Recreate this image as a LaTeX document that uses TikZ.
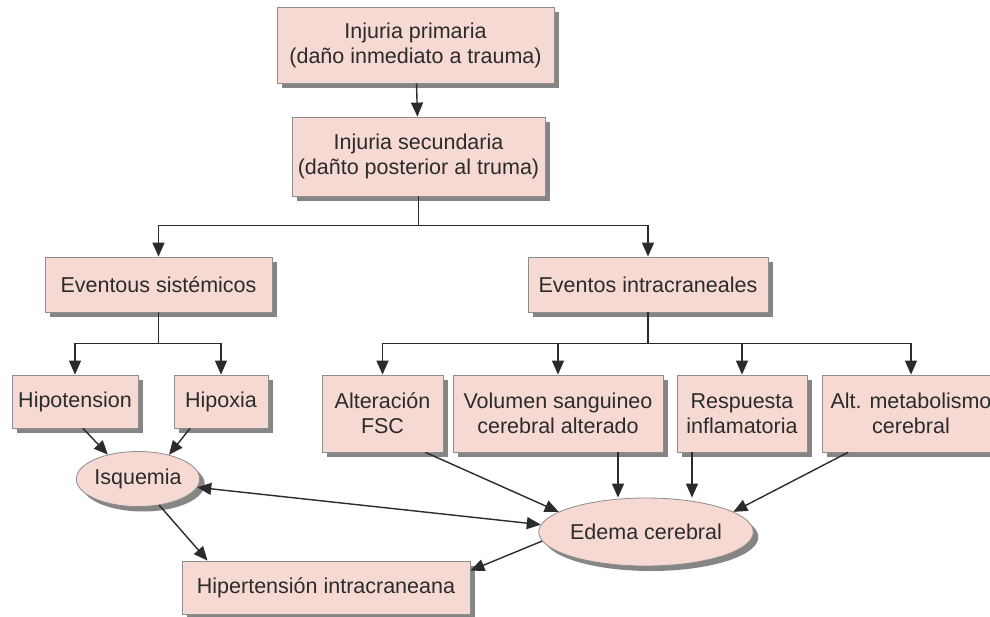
\documentclass[tikz,border=0pt]{standalone}
\usepackage{fontspec}
\setmainfont{Liberation Sans}
\usetikzlibrary{arrows.meta,shapes.geometric,shadows}
\definecolor{boxpink}{HTML}{F6D9D3}
\definecolor{boxline}{HTML}{8E8E8E}
\definecolor{shade}{HTML}{858585}
\definecolor{ink}{HTML}{2B2B2B}
\begin{document}
\begin{tikzpicture}[x=1pt, y=-1pt,
    >={Triangle[length=14pt,width=12pt]},
    box/.style={draw=boxline, line width=0.8pt, fill=boxpink, text=ink,
        align=center, inner sep=0pt, font=\fontsize{21.5}{25}\selectfont,
        drop shadow={shadow xshift=5pt, shadow yshift=-5pt, fill=shade, opacity=1}},
    oval/.style={box, ellipse},
    arr/.style={->, draw=ink, line width=1.4pt}]

    \fill[white] (0,0) rectangle (990,617);
    \useasboundingbox (0,0) rectangle (990,617);

    % Top boxes
    \node[box, minimum width=277pt, minimum height=76pt] (prim) at (415.5,45)
        {Injuria primaria\\(daño inmediato a trauma)};
    \node[box, minimum width=253pt, minimum height=79pt] (sec) at (418.5,156.5)
        {Injuria secundaria\\(dañto posterior al truma)};

    % Events
    \node[box, minimum width=227pt, minimum height=55pt] (sist) at (158.5,284.5) {Eventous sistémicos};
    \node[box, minimum width=240pt, minimum height=55pt] (intra) at (648,284.5) {Eventos intracraneales};

    % Systemic causes
    \node[box, minimum width=126pt, minimum height=53pt] (hipot) at (75,401.5) {Hipotension};
    \node[box, minimum width=94pt, minimum height=53pt] (hipox) at (221,401.5) {Hipoxia};

    % Intracranial causes
    \node[box, minimum width=121pt, minimum height=77pt] (alt) at (382.5,413.5) {Alteración\\FSC};
    \node[box, minimum width=210pt, minimum height=77pt] (vol) at (558,413.5) {Volumen sanguineo\\cerebral alterado};
    \node[box, minimum width=130pt, minimum height=77pt] (resp) at (742,413.5) {Respuesta\\inflamatoria};
    \node[box, minimum width=178pt, minimum height=77pt] (meta) at (911,413.5) {Alt. metabolismo\\cerebral};

    % Consequences
    \node[oval, minimum width=120pt, minimum height=55pt] (isq) at (138,479) {Isquemia};
    \node[oval, minimum width=202pt, minimum height=68pt] (edema) at (646,532) {Edema cerebral};
    \node[box, minimum width=288pt, minimum height=53pt] (hiper) at (326,587.5) {Hipertensión intracraneana};

    % Tree arrows
    \draw[arr] (prim) -- (sec);
    \draw[arr] (sec.south) -- ++(0,29) -| (sist.north);
    \draw[arr] (sec.south) -- ++(0,29) -| (intra.north);
    \foreach \n in {hipot, hipox}
        \draw[arr] (sist.south) -- ++(0,31) -| (\n.north);
    \foreach \n in {alt, vol, resp, meta}
        \draw[arr] (intra.south) -- ++(0,31) -| (\n.north);

    % Arrows to ellipses
    \draw[arr] ([xshift=8pt]hipot.south) -- (isq.141);
    \draw[arr] ([xshift=-31pt]hipox.south) -- (isq.38);
    \draw[arr] ([xshift=43pt]alt.south) -- (edema.167);
    \draw[arr] ([xshift=60pt]vol.south) -- ([xshift=60pt]vol.south |- edema.north);
    \draw[arr] ([xshift=-50pt]resp.south) -- ([xshift=-50pt]resp.south |- edema.north);
    \draw[arr] ([xshift=-63pt]meta.south) -- (edema.13);

    % To hypertension
    \draw[arr, <->] (isq.-8) -- (edema.176);
    \draw[arr] (isq.-51) -- ([xshift=26pt]hiper.north west);
    \draw[arr] (edema.185) -- ([yshift=-10pt]hiper.north east);
\end{tikzpicture}
\end{document}
